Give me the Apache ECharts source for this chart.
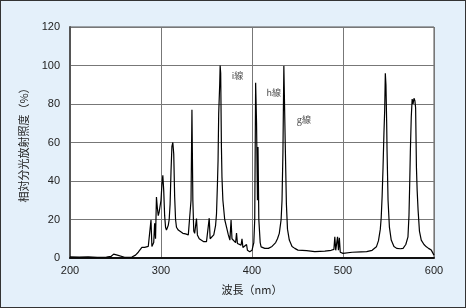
<!DOCTYPE html>
<html><head><meta charset="utf-8">
<script src="https://cdn.jsdelivr.net/npm/echarts@6/dist/echarts.min.js"></script>
<style>
html,body{margin:0;padding:0;background:#e4f0fa;}
#c{width:466px;height:308px;box-sizing:border-box;border:1px solid #333;}
</style></head>
<body><div id="c"></div>
<script>
const wavelengths = [200,210,220,230,240,245,248,250,252,254,260,268,272,275,277,279,280,282,284,286,288,289,290,291,292,293,294,295,296,297,298,300,301,302,303,304,305,306,307,308,309,310,311,312,313,314,315,316,317,319,321,324,327,330,332,333,334,335,336,337,339,340,342,344,347,350,352,353,354,355,358,360,361,362,362.7,363.4,364.5,365,365.6,366.4,367,368,370,372,374,375.7,377,378,380,382,383,384,386,388,389,390,392,394,395,397.5,400,402,403,404,405,406,406.6,407.5,409,410,414,418,422,426,428,430,432,433,434,435,435.8,436.5,437.8,439,441,444,447,450.5,460,469,480,487,490,491,492,494,495,496,497,500,510,520,526,532,536.7,539,541,542,543,544,545,545.8,546.5,547.2,548,548.4,549.5,551,553,556,559,563,566,569,571.4,572.5,573.3,574,575,576,577,578,579,579.8,580.7,581.5,582.5,584,586,589,591.6,594,597,599,600];
const intensity = [0.6,0.5,0.6,0.4,0.5,0.8,2.0,2.4,1.5,0.6,0.4,0.5,1.5,3.0,3.5,5.5,6.5,5.5,5.0,6.0,7.0,19.7,6.0,5.5,8.0,18,10,31.7,26,22,24,30,38,43,35,22,16,14.5,15,17,20,28,45,58,60,54,32,20,16,14.5,13.5,12.8,12.5,12.0,13,30,77,30,14,12.8,20.5,12,10,9.3,8.5,8.5,9,20.7,10,9.3,12,17,23,38,50.7,75,90,100,96,57.6,42,30,20,16,12,9.3,19.7,10,9.5,8,13,7.5,7,6.7,10,5.5,5,7,4,3.3,4,8,20,91,70,30,57.6,20,8,5.8,5,5,6,8,10,12.8,20,30,55,99.8,100,60,28,15,9.3,6,5,4.1,3.8,3.3,3.6,4,4.5,11,4,11,4,10.5,3,2.4,3,3.2,3.3,4,5.8,9,15,21,32,47,65,76.6,96,90,70,56,30,16,9.3,6,5,4.8,5,7,11,22,38.6,55,73,82.6,80,83,81.7,78,47,35,25,14,9.3,7,5.8,5,4.1,3.5,1.5];
const yTicks = [0,20,40,60,80,100,120];
const xTicks = [200,300,400,500,600];
const annoText = ['i線','h線','g線'];
const annoX = [384,424,457];
const annoY = [95,86,72];

const chart = echarts.init(document.getElementById('c'), null, {renderer:'canvas'});
const font = '"Liberation Sans", Arial, sans-serif';
chart.setOption({
  backgroundColor: '#e4f0fa',
  animation: false,
  grid: {left: 69, right: 31, top: 26, bottom: 49, show: true, backgroundColor: '#fff', borderColor: '#555', borderWidth: 1},
  xAxis: {
    type: 'value', min: xTicks[0], max: xTicks[xTicks.length-1], interval: 100,
    name: '波長（nm）', nameLocation: 'middle', nameGap: 26,
    nameTextStyle: {fontFamily: '"Noto Sans CJK JP", sans-serif', fontSize: 11, color: '#222'},
    axisLine: {show: true, onZero: false, lineStyle: {color: '#111', width: 2}},
    axisTick: {show: false},
    axisLabel: {fontFamily: font, fontSize: 11, color: '#222', margin: 7},
    splitLine: {show: true, lineStyle: {color: '#777', width: 1}}
  },
  yAxis: {
    type: 'value', min: yTicks[0], max: yTicks[yTicks.length-1], interval: 20,
    name: '相対分光放射照度（%）', nameLocation: 'middle', nameGap: 41, nameRotate: 90,
    nameTextStyle: {fontFamily: '"Noto Sans CJK JP", sans-serif', fontSize: 11, color: '#222'},
    axisLine: {show: true, lineStyle: {color: '#555', width: 2}},
    axisTick: {show: false},
    axisLabel: {fontFamily: font, fontSize: 11, color: '#222', margin: 10},
    splitLine: {show: true, lineStyle: {color: '#777', width: 1}}
  },
  series: [{
    type: 'line',
    data: wavelengths.map((w, i) => [w, intensity[i]]),
    showSymbol: false,
    lineStyle: {color: '#000', width: 1.2},
    z: 3
  }, {
    type: 'scatter',
    data: annoX.map((x, i) => ({value: [x, annoY[i]], name: annoText[i]})),
    symbolSize: 0,
    label: {show: true, position: 'inside', formatter: p => p.name, fontFamily: '"Noto Sans CJK JP", sans-serif', fontSize: 9, color: '#111'},
    z: 4
  }]
});
</script></body></html>
